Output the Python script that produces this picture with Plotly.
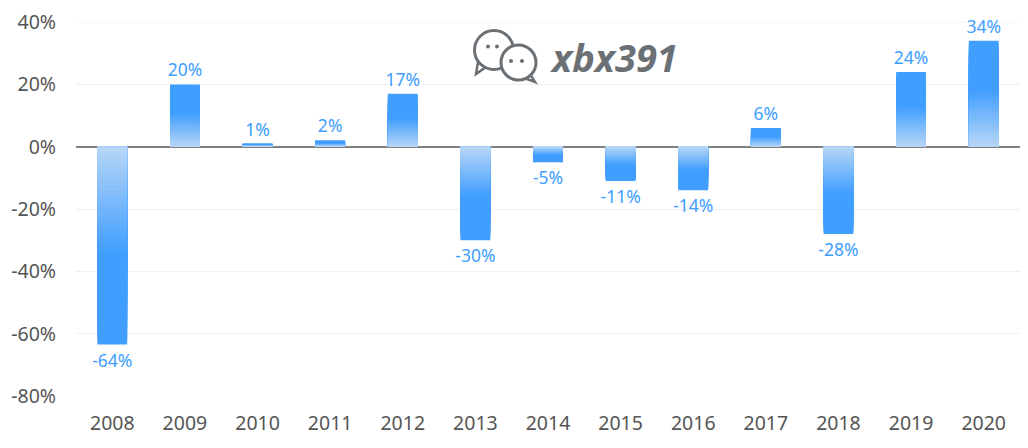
import numpy as np
import plotly.graph_objects as go

years = ["2008", "2009", "2010", "2011", "2012", "2013", "2014",
         "2015", "2016", "2017", "2018", "2019", "2020"]
returns = [-63.5, 20, 1, 2, 17, -30, -5, -11, -14, 6, -28, 24, 34]
y_ticks = [40, 20, 0, -20, -40, -60, -80]

# the page body has an 8px margin, so the figure sits at (8, 8)
OFF = 8
W, H = 1012, 432
ML, MR, MT, MB = 68, 0, 14, 44

SOLID = (64, 158, 255)
LIGHT = (186, 216, 246)
GREY = "#6b7075"


def px_x(px):
    # page pixel -> paper x
    return (px - OFF - ML) / (W - ML - MR)


def px_y(py):
    return (H - MB - (py - OFF)) / (H - MT - MB)


def mix(k):
    # k = fraction of bar length from zero; light near zero, solid past 55%
    t = min(k / 0.55, 1.0)
    c = [round(LIGHT[i] + (SOLID[i] - LIGHT[i]) * t) for i in range(3)]
    return f"rgb({c[0]},{c[1]},{c[2]})"


def circle(cx, cy, r, fill, lw):
    return dict(type="circle", xref="paper", yref="paper",
                x0=px_x(cx - r), x1=px_x(cx + r),
                y0=px_y(cy + r), y1=px_y(cy - r),
                fillcolor=fill, line=dict(color=GREY, width=lw),
                layer="above")


def tail(pts, fill):
    path = "M " + " L ".join(f"{px_x(a)},{px_y(b)}" for a, b in pts) + " Z"
    return dict(type="path", xref="paper", yref="paper", path=path,
                fillcolor=fill, line=dict(color=GREY, width=2.5),
                layer="above")


fig = go.Figure()

# gradient: shorter, lighter bars overlaid on top of the full bar
steps = np.linspace(1.0, 0.0, 36, endpoint=False)
for i, k in enumerate(steps):
    first = i == 0
    fig.add_trace(go.Bar(
        x=years,
        y=[v * k for v in returns],
        width=0.41,
        marker=dict(color=mix(k), line=dict(width=0)),
        texttemplate="%{y:.0f}%" if first else None,
        textposition="outside" if first else "none",
        constraintext="none",
        textfont=dict(color="#409EFF", size=17.5, family="Noto Sans"),
        cliponaxis=False,
        hoverinfo="skip",
        showlegend=False,
    ))

# watermark icon (two chat bubbles)
shapes = [
    tail([(478, 62), (476, 74), (486, 67)], "white"),
    circle(494, 50, 19.5, "white", 3),
    tail([(530, 74), (535, 82), (524, 78)], "white"),
    circle(518.5, 62.5, 17.5, "white", 3),
]
for cx, cy in [(488, 46.5), (497, 46.5), (511, 61), (522, 61)]:
    shapes.append(circle(cx, cy, 2, GREY, 0))

# top gridline at 40% (edge of the plot area)
shapes.append(dict(type="line", xref="paper", yref="y", x0=0, x1=1,
                   y0=y_ticks[0], y1=y_ticks[0],
                   line=dict(color="#f0f0f0", width=1), layer="below"))

fig.update_layout(
    width=W, height=H,
    margin=dict(l=ML, r=MR, t=MT, b=MB),
    paper_bgcolor="white", plot_bgcolor="white",
    barmode="overlay",
    font=dict(family="Noto Sans", color="#555555"),
    shapes=shapes,
    annotations=[dict(
        text="xbx391", xref="paper", yref="paper",
        x=px_x(614), y=px_y(57), xanchor="center", yanchor="middle",
        showarrow=False,
        font=dict(size=38, color=GREY, family="Open Sans",
                  weight="bold", style="italic"),
    )],
    xaxis=dict(
        type="category",
        showgrid=False, showline=False, zeroline=False,
        ticks="", tickfont=dict(size=19.5, color="#555555"),
        ticklabelstandoff=13,
        automargin=False,
    ),
    yaxis=dict(
        range=[-80, 40.02],
        tickvals=y_ticks,
        ticktext=[f"{t}%" for t in y_ticks],
        showgrid=True, gridcolor="#f0f0f0", gridwidth=1,
        zeroline=True, zerolinecolor="#808080", zerolinewidth=1.5,
        showline=False, ticks="",
        tickfont=dict(size=19.5, color="#555555"),
        ticklabelstandoff=19,
        ticklabeloverflow="allow",
        automargin=False,
    ),
)

fig.write_html("out.html")
